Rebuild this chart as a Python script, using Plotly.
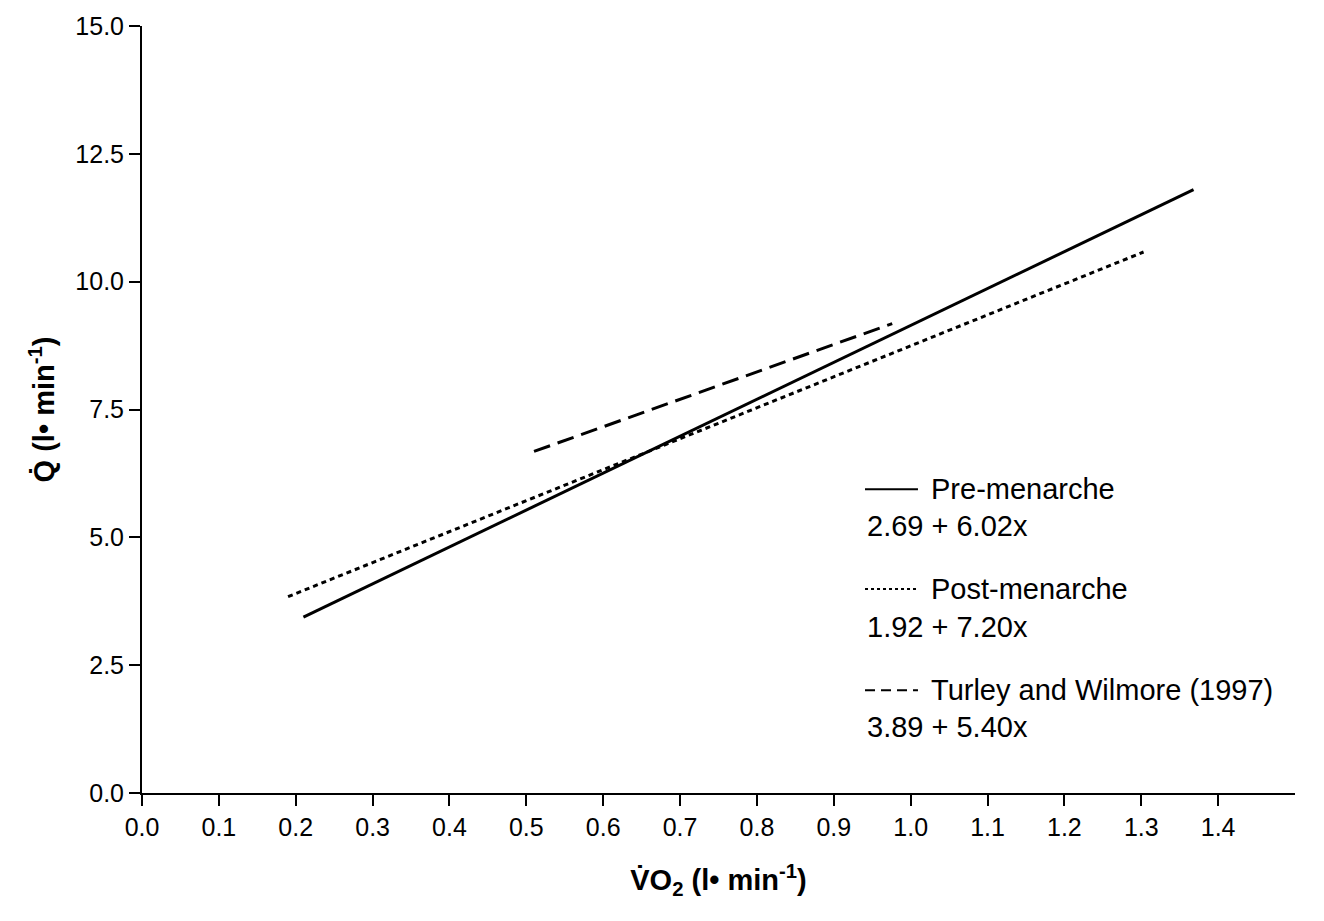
import plotly.graph_objects as go

# Line endpoints (x = VO2, y = Q)
pre_x = [0.21, 1.368]
pre_y = [3.44, 11.80]
post_x = [0.19, 1.303]
post_y = [3.84, 10.58]
turley_x = [0.51, 0.976]
turley_y = [6.68, 9.18]

legend_names = ["Pre-menarche", "Post-menarche", "Turley and Wilmore (1997)"]
legend_eqs = ["2.69 + 6.02x", "1.92 + 7.20x", "3.89 + 5.40x"]

x_ticks = [round(i * 0.1, 1) for i in range(15)]
y_ticks = [0, 2.5, 5, 7.5, 10, 12.5, 15]

FONT = "Liberation Sans, Arial, sans-serif"
dashes = ["solid", "5px,4px", "17px,8px"]

fig = go.Figure()
for xs, ys, d, n in zip([pre_x, post_x, turley_x], [pre_y, post_y, turley_y], dashes, legend_names):
    fig.add_trace(go.Scatter(x=xs, y=ys, mode="lines", name=n,
                             line=dict(color="black", width=3, dash=d),
                             showlegend=False))

# Legend built as annotations + sample lines
leg_x0, leg_x1, leg_tx = 0.9406, 1.0095, 1.024
name_y = [5.94, 3.99, 2.01]
eq_y = [5.22, 3.24, 1.29]
for i in range(3):
    fig.add_shape(type="line", x0=leg_x0, x1=leg_x1, y0=name_y[i], y1=name_y[i],
                  line=dict(color="black", width=2, dash=["solid", "3px,3px", "10px,6px"][i]))
    fig.add_annotation(x=leg_tx, y=name_y[i], text=legend_names[i], showarrow=False,
                       xanchor="left", yanchor="middle", font=dict(size=29, color="black"))
    fig.add_annotation(x=leg_x0, y=eq_y[i], text=legend_eqs[i], showarrow=False,
                       xanchor="left", yanchor="middle", font=dict(size=29, color="black"))

fig.update_layout(
    width=1324, height=921,
    margin=dict(l=142, r=29, t=23, b=128),
    paper_bgcolor="white", plot_bgcolor="white",
    font=dict(family=FONT, color="black", size=25),
)
fig.update_xaxes(
    range=[0, 1.5], tickvals=x_ticks, ticktext=[f"{v:.1f}" for v in x_ticks],
    showline=True, linecolor="black", linewidth=2, ticks="outside", ticklen=11,
    tickwidth=2, tickcolor="black", showgrid=False, zeroline=False,
    title=dict(text="<b>V\u0307O<sub>2</sub> (l\u2022 min<sup>-1</sup>)</b>",
               font=dict(size=29), standoff=30),
)
fig.update_yaxes(
    range=[0, 15], tickvals=y_ticks, ticktext=[f"{v:.1f}" for v in y_ticks],
    showline=True, linecolor="black", linewidth=2, ticks="outside", ticklen=11,
    tickwidth=2, tickcolor="black", showgrid=False, zeroline=False,
    title=dict(text="<b>Q\u0307 (l\u2022 min<sup>-1</sup>)</b>",
               font=dict(size=29), standoff=12),
)

fig.write_html("out.html")
